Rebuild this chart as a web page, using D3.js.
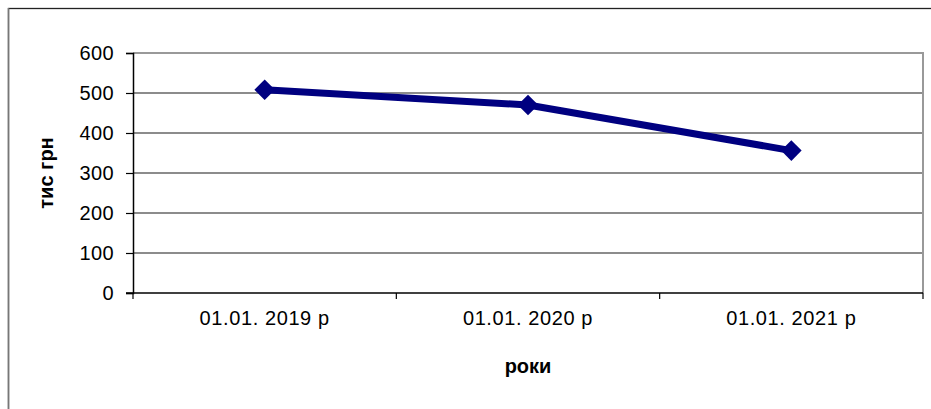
<!DOCTYPE html>
<html>
<head>
<meta charset="utf-8">
<script src="https://cdn.jsdelivr.net/npm/d3@7"></script>
<style>
  html, body { margin: 0; padding: 0; background: #fff; }
  svg { display: block; }
  text { font-family: "Liberation Sans", Arial, sans-serif; fill: #000; }
</style>
</head>
<body>
<svg id="chart" width="931" height="409"></svg>
<script>
const categories = ["01.01. 2019 р", "01.01. 2020 р", "01.01. 2021 р"];
const values = [508, 470, 356];
const yTicks = [0, 100, 200, 300, 400, 500, 600];
const yTitle = "тис грн";
const xTitle = "роки";

const svg = d3.select("#chart");
const W = 931, H = 409;
const plot = { left: 133, top: 53, right: 923, bottom: 293 };

// outer frame
svg.append("rect")
  .attr("x", 8.5).attr("y", 8.5)
  .attr("width", W + 10).attr("height", H + 10)
  .attr("fill", "#fff").attr("stroke", "#222").attr("stroke-width", 1.3);
svg.append("line")
  .attr("x1", 8.5).attr("x2", 8.5).attr("y1", 8).attr("y2", H)
  .attr("stroke", "#777").attr("stroke-width", 1.5);

const x = d3.scaleBand().domain(categories).range([plot.left, plot.right]).padding(0);
const y = d3.scaleLinear().domain([0, 600]).range([plot.bottom, plot.top]);

// gridlines
svg.append("g").selectAll("line").data(yTicks.filter(d => d > 0 && d < 600)).join("line")
  .attr("x1", plot.left).attr("x2", plot.right)
  .attr("y1", d => y(d)).attr("y2", d => y(d))
  .attr("stroke", "#666").attr("stroke-width", 1.3);

// plot border top/right
svg.append("path")
  .attr("d", `M${plot.left},${y(600)}H${plot.right}V${plot.bottom}`)
  .attr("fill", "none").attr("stroke", "#999").attr("stroke-width", 2);

// y axis
const yAxis = svg.append("g")
  .attr("transform", `translate(${plot.left},0)`)
  .call(d3.axisLeft(y).tickValues(yTicks).tickSize(7).tickPadding(12).tickFormat(d3.format("d")));
yAxis.select(".domain").attr("stroke", "#000").attr("stroke-width", 1.5);
yAxis.selectAll(".tick line").attr("stroke", "#000").attr("stroke-width", 1.2);
yAxis.selectAll(".tick text").style("font-size", "20px").style("letter-spacing", "0.4px")
  .style("font-family", '"Liberation Sans", Arial, sans-serif').attr("fill", "#000");

// x axis with ticks at category boundaries
const xAxisG = svg.append("g").attr("transform", `translate(0,${plot.bottom})`);
xAxisG.append("line").attr("x1", plot.left - 7).attr("x2", plot.right)
  .attr("stroke", "#000").attr("stroke-width", 1.5);
const boundaries = categories.map(c => x(c)).concat([x(categories[categories.length - 1]) + x.bandwidth()]);
xAxisG.selectAll(".bt").data(boundaries).join("line")
  .attr("x1", d => d).attr("x2", d => d).attr("y1", 0).attr("y2", 6)
  .attr("stroke", "#000").attr("stroke-width", 1.2);
xAxisG.selectAll(".xl").data(categories).join("text")
  .attr("x", d => x(d) + x.bandwidth() / 2).attr("y", 32)
  .attr("text-anchor", "middle").style("font-size", "20px").style("letter-spacing", "0.6px")
  .text(d => d);

// line
const cx = d => x(d) + x.bandwidth() / 2;
const line = d3.line().x((d, i) => cx(categories[i])).y(d => y(d));
svg.append("path").datum(values)
  .attr("d", line).attr("fill", "none")
  .attr("stroke", "#000080").attr("stroke-width", 7).attr("stroke-linejoin", "round");

// diamond markers
const sym = d3.symbol().type(d3.symbolDiamond2).size(270);
svg.append("g").selectAll("path").data(values).join("path")
  .attr("transform", (d, i) => `translate(${cx(categories[i])},${y(d)})`)
  .attr("d", sym).attr("fill", "#000080");

// axis titles
svg.append("text")
  .attr("transform", `translate(53,${(plot.top + plot.bottom) / 2}) rotate(-90)`)
  .attr("text-anchor", "middle").style("font-size", "20px").style("font-weight", "bold")
  .text(yTitle);
svg.append("text")
  .attr("x", (plot.left + plot.right) / 2).attr("y", 373)
  .attr("text-anchor", "middle").style("font-size", "20px").style("font-weight", "bold")
  .text(xTitle);
</script>
</body>
</html>
